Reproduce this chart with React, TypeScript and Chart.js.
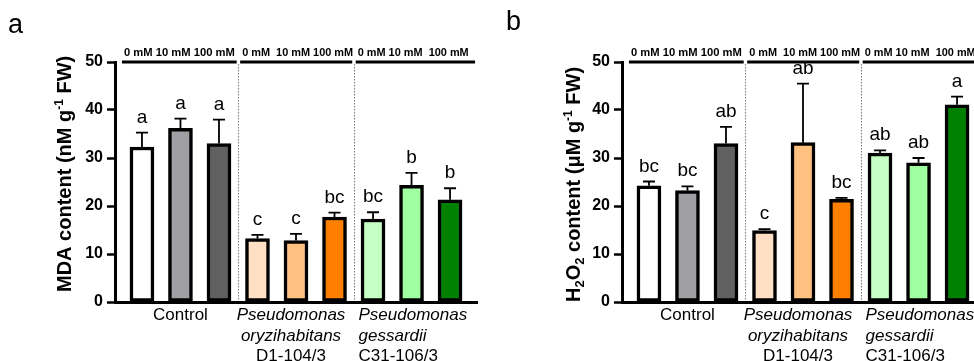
import React, { useEffect, useRef } from 'react';
import { Chart, registerables } from 'chart.js';

Chart.register(...registerables);

const FONT = "'Liberation Sans', Arial, Helvetica, sans-serif";

const categories = [
  'Control 0 mM', 'Control 10 mM', 'Control 100 mM',
  'D1-104/3 0 mM', 'D1-104/3 10 mM', 'D1-104/3 100 mM',
  'C31-106/3 0 mM', 'C31-106/3 10 mM', 'C31-106/3 100 mM',
];
const barColors = ['#ffffff', '#a0a0a4', '#606060', '#ffe0c4', '#ffc080', '#ff8000', '#c4ffc4', '#a0ffa0', '#008000'];

const mdaMeans = [32.3, 36.2, 33.0, 13.2, 12.8, 17.7, 17.3, 24.3, 21.3];
const mdaErrors = [3.0, 2.0, 5.0, 0.8, 1.4, 0.9, 1.4, 2.6, 2.4];
const mdaLetters = ['a', 'a', 'a', 'c', 'c', 'bc', 'bc', 'b', 'b'];

const h2o2Means = [24.2, 23.2, 33.0, 14.9, 33.2, 21.4, 31.0, 29.0, 41.1];
const h2o2Errors = [0.9, 0.9, 3.5, 0.3, 12.3, 0.3, 0.6, 1.0, 1.7];
const h2o2Letters = ['bc', 'bc', 'ab', 'c', 'ab', 'bc', 'ab', 'ab', 'a'];

const yTicks = [0, 10, 20, 30, 40, 50];
const doseLabels = ['0 mM 10 mM 100 mM', '0 mM  10 mM 100 mM', '0 mM 10 mM  100 mM'];
const groupLabels = [
  ['Control'],
  ['Pseudomonas', 'oryzihabitans', 'D1-104/3'],
  ['Pseudomonas', 'gessardii', 'C31-106/3'],
];

type Seg = { text: string; size: number; dy: number };

const mdaTitle: Seg[] = [
  { text: 'MDA content (nM g', size: 20, dy: 0 },
  { text: '-1', size: 12, dy: -8 },
  { text: ' FW)', size: 20, dy: 0 },
];
const h2o2Title: Seg[] = [
  { text: 'H', size: 20, dy: 0 },
  { text: '2', size: 13, dy: 4 },
  { text: 'O', size: 20, dy: 0 },
  { text: '2', size: 13, dy: 4 },
  { text: ' content (\u03bcM g', size: 20, dy: 0 },
  { text: '-1', size: 12, dy: -8 },
  { text: ' FW)', size: 20, dy: 0 },
];

type PanelProps = {
  means: number[];
  errors: number[];
  letters: string[];
  title: Seg[];
  titleX: number;
  titleY: number;
  panelLetter: string;
  panelX: number;
  panelY: number;
  left: number;
};

function Panel(p: PanelProps) {
  const ref = useRef<HTMLCanvasElement | null>(null);
  useEffect(() => {
    if (!ref.current) return;
    const groupStarts = [-0.52, 2.55, 5.55];
    const groupEnds = [2.46, 5.46, 8.65];
    const overlay = {
      id: 'overlay',
      beforeDatasetsDraw(chart: any) {
        const ctx = chart.ctx;
        const xs = chart.scales.x;
        const ys = chart.scales.y;
        ctx.save();
        ctx.strokeStyle = '#7a7a7a';
        ctx.lineWidth = 1;
        ctx.setLineDash([1.5, 1.5]);
        [2.5, 5.5].forEach((v) => {
          const x = Math.round(xs.getPixelForValue(v)) + 0.5;
          ctx.beginPath();
          ctx.moveTo(x, ys.getPixelForValue(50) + 2);
          ctx.lineTo(x, ys.getPixelForValue(0) - 1);
          ctx.stroke();
        });
        ctx.restore();
      },
      afterDatasetsDraw(chart: any) {
        const ctx = chart.ctx;
        const xs = chart.scales.x;
        const ys = chart.scales.y;
        ctx.save();
        ctx.strokeStyle = '#000';
        ctx.lineWidth = 1.8;
        ctx.fillStyle = '#000';
        ctx.font = `19px ${FONT}`;
        ctx.textAlign = 'center';
        ctx.textBaseline = 'alphabetic';
        p.means.forEach((m, i) => {
          const x = xs.getPixelForValue(i);
          const yb = ys.getPixelForValue(m);
          const yt = ys.getPixelForValue(m + p.errors[i]);
          ctx.beginPath();
          ctx.moveTo(x, yb);
          ctx.lineTo(x, yt);
          ctx.moveTo(x - 6, yt);
          ctx.lineTo(x + 6, yt);
          ctx.stroke();
          ctx.fillText(p.letters[i], x, yt - 10);
        });
        ctx.restore();
      },
      afterDraw(chart: any) {
        const ctx = chart.ctx;
        const xs = chart.scales.x;
        const ys = chart.scales.y;
        const yTop = ys.getPixelForValue(50);
        ctx.save();
        ctx.strokeStyle = '#000';
        ctx.lineWidth = 3;
        ctx.fillStyle = '#000';
        groupStarts.forEach((s, g) => {
          const x0 = xs.getPixelForValue(s);
          const x1 = xs.getPixelForValue(groupEnds[g]);
          ctx.beginPath();
          ctx.moveTo(x0, yTop);
          ctx.lineTo(x1, yTop);
          ctx.stroke();
          ctx.save();
          ctx.font = `bold 10px ${FONT}`;
          ctx.textAlign = 'left';
          const w = ctx.measureText(doseLabels[g]).width;
          const target = 111;
          ctx.translate(x0 + 2, yTop - 6);
          ctx.scale(target / w, 1);
          ctx.fillText(doseLabels[g], 0, 0);
          ctx.restore();
        });
        const baselines = [320, 340.5, 361];
        ctx.textAlign = 'center';
        ctx.font = `17px ${FONT}`;
        ctx.fillText(groupLabels[0][0], xs.getPixelForValue(1), baselines[0]);
        const c2 = xs.getPixelForValue(4) - 5;
        groupLabels[1].forEach((t, k) => {
          ctx.font = k < 2 ? `italic 17px ${FONT}` : `17px ${FONT}`;
          ctx.fillText(t, c2, baselines[k]);
        });
        ctx.textAlign = 'left';
        const l3 = xs.getPixelForValue(6) - 14.5;
        groupLabels[2].forEach((t, k) => {
          ctx.font = k < 2 ? `italic 17px ${FONT}` : `17px ${FONT}`;
          ctx.fillText(t, l3, baselines[k]);
        });
        ctx.save();
        ctx.translate(p.titleX, p.titleY);
        ctx.rotate(-Math.PI / 2);
        ctx.textAlign = 'left';
        let cx = 0;
        p.title.forEach((s) => {
          ctx.font = `bold ${s.size}px ${FONT}`;
          ctx.fillText(s.text, cx, s.dy);
          cx += ctx.measureText(s.text).width;
        });
        ctx.restore();
        ctx.font = `27px ${FONT}`;
        ctx.textAlign = 'left';
        ctx.fillText(p.panelLetter, p.panelX, p.panelY);
        ctx.restore();
      },
    };

    const chart = new Chart(ref.current, {
      type: 'bar',
      data: {
        labels: categories,
        datasets: [
          {
            data: p.means.map((v, i) => ({ x: i, y: v })) as any,
            backgroundColor: barColors,
            borderColor: '#000',
            borderWidth: 3.5,
            borderSkipped: false,
            barThickness: 24,
          },
        ],
      },
      options: {
        animation: false,
        responsive: false,
        maintainAspectRatio: false,
        layout: { padding: { left: 0, right: 10, top: 62, bottom: 0 } },
        plugins: { legend: { display: false }, tooltip: { enabled: false } },
        scales: {
          x: {
            type: 'linear',
            min: -0.7,
            max: 8.7,
            offset: false,
            grid: { display: false, drawTicks: false },
            border: { display: true, width: 3, color: '#000' },
            ticks: { display: false },
            afterFit: (s: any) => {
              s.height = 59;
            },
          },
          y: {
            min: 0,
            max: 50,
            afterBuildTicks: (s: any) => {
              s.ticks = yTicks.map((v) => ({ value: v }));
            },
            ticks: {
              color: '#000',
              padding: 4,
              font: { family: FONT, size: 16, weight: 'bold' },
            },
            grid: {
              drawOnChartArea: false,
              drawTicks: true,
              tickLength: 8,
              tickWidth: 2.5,
              tickColor: '#000',
            },
            border: { display: true, width: 3, color: '#000' },
            afterFit: (s: any) => {
              s.width = 115;
            },
          },
        },
      } as any,
      plugins: [overlay],
    });
    return () => chart.destroy();
  }, []);
  return (
    <canvas
      ref={ref}
      width={487}
      height={361}
      style={{ position: 'absolute', left: p.left, top: 0, width: 487, height: 361 }}
    />
  );
}

export default function App() {
  return (
    <div
      style={{
        position: 'fixed',
        left: 0,
        top: 0,
        width: 974,
        height: 361,
        overflow: 'hidden',
        background: '#fff',
      }}
    >
      <Panel
        means={mdaMeans}
        errors={mdaErrors}
        letters={mdaLetters}
        title={mdaTitle}
        titleX={71}
        titleY={292}
        panelLetter="a"
        panelX={8}
        panelY={33}
        left={0}
      />
      <Panel
        means={h2o2Means}
        errors={h2o2Errors}
        letters={h2o2Letters}
        title={h2o2Title}
        titleX={73}
        titleY={302}
        panelLetter="b"
        panelX={-1}
        panelY={30}
        left={507}
      />
    </div>
  );
}
